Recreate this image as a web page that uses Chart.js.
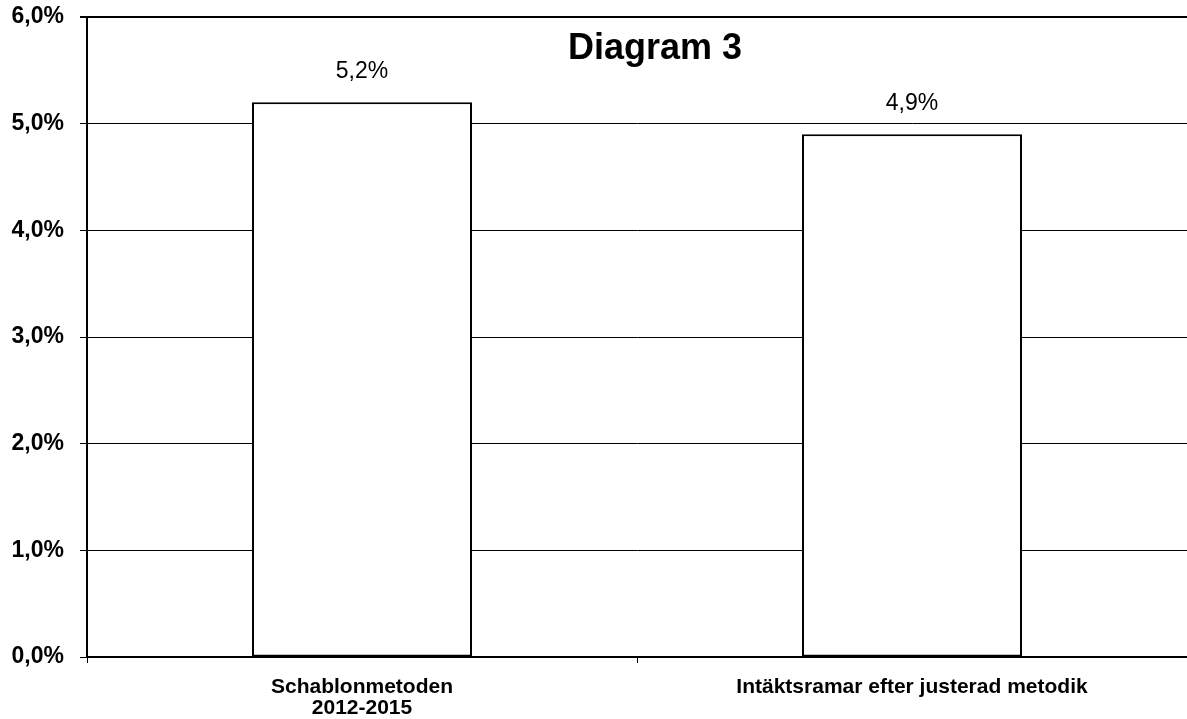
<!DOCTYPE html>
<html>
<head>
<meta charset="utf-8">
<script src="https://cdn.jsdelivr.net/npm/chart.js@4/dist/chart.umd.min.js"></script>
<style>
  html, body { margin: 0; padding: 0; background: #fff; }
  #wrap { width: 1187px; height: 719px; }
</style>
</head>
<body>
<div id="wrap"><canvas id="myChart" width="1187" height="719"></canvas></div>
<script>
const categories = [["Schablonmetoden", "2012-2015"], "Intäktsramar efter justerad metodik"];
const values = [5.2, 4.9];
const valueLabels = ["5,2%", "4,9%"];
const chartTitle = "Diagram 3";

const fmt = (v) => v.toFixed(1).replace(".", ",") + "%";

// title and value labels sit inside the plot area
const insideText = {
  id: "insideText",
  afterDatasetsDraw(chart) {
    const ctx = chart.ctx;
    ctx.save();
    ctx.fillStyle = "#000";
    ctx.textAlign = "center";
    ctx.textBaseline = "alphabetic";
    ctx.font = "bold 36px 'Liberation Sans', Arial, sans-serif";
    ctx.fillText(chartTitle, 655, 59);

    ctx.font = "23px 'Liberation Sans', Arial, sans-serif";
    const meta = chart.getDatasetMeta(0);
    meta.data.forEach((bar, i) => {
      ctx.fillText(valueLabels[i], bar.x, bar.y - 24);
    });
    ctx.restore();
  }
};

const ctx = document.getElementById("myChart").getContext("2d");
const myChart = new Chart(ctx, {
  type: "bar",
  data: {
    labels: categories,
    datasets: [{
      data: values,
      backgroundColor: "#fff",
      borderColor: "#000",
      borderWidth: 2,
      borderSkipped: false,
      categoryPercentage: 1,
      barPercentage: 0.4
    }]
  },
  options: {
    responsive: false,
    animation: false,
    layout: { padding: { top: 17, right: 0, left: 0, bottom: 0 } },
    plugins: {
      legend: { display: false },
      tooltip: { enabled: false }
    },
    scales: {
      x: {
        afterFit: (s) => { s.height = 62; s.paddingLeft = 0; s.paddingRight = 0; },
        grid: { drawOnChartArea: false, drawTicks: true, tickLength: 6, color: "#000", offset: true },
        border: { color: "#000", width: 2 },
        ticks: {
          color: "#000",
          padding: 14,
          maxRotation: 0,
          font: { family: "'Liberation Sans', Arial, sans-serif", size: 21, weight: "bold", lineHeight: 1.0 }
        }
      },
      y: {
        min: 0,
        max: 6,
        afterFit: (s) => { s.width = 87; s.paddingTop = 0; s.paddingBottom = 0; },
        grid: {
          color: "#000",
          lineWidth: (c) => (c.tick && c.tick.value === 6 ? 2 : 1),
          tickLength: 7
        },
        border: { color: "#000", width: 2 },
        ticks: {
          stepSize: 1,
          color: "#000",
          padding: 16,
          callback: (v) => fmt(v),
          font: { family: "'Liberation Sans', Arial, sans-serif", size: 23, weight: "bold" }
        }
      }
    }
  },
  plugins: [insideText]
});
</script>
</body>
</html>
